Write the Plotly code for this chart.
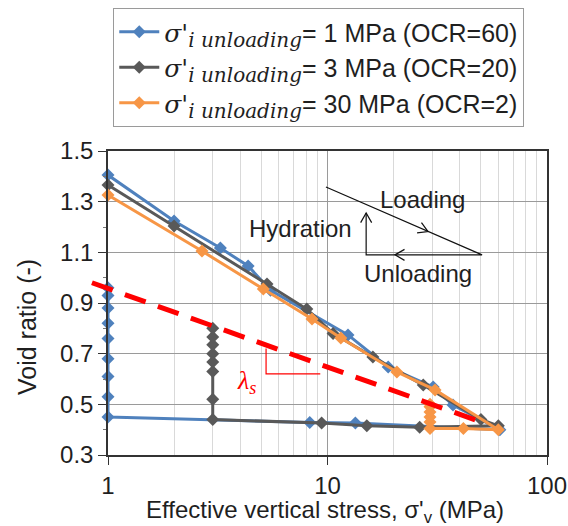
import numpy as np
import plotly.graph_objects as go

# ---------------- data ----------------
blue_x = [1, 2, 3.25, 4.35, 5.5, 12.4, 18.9, 30.3, 37.3, 61, 13.4, 8.3, 1, 1, 1, 1, 1, 1, 1, 1, 1]
blue_e = [1.405, 1.224, 1.117, 1.046, 0.95, 0.774, 0.647, 0.568, 0.497, 0.40, 0.426, 0.428, 0.45,
          0.53, 0.61, 0.68, 0.76, 0.82, 0.88, 0.93, 0.96]

gray_x = [1, 2, 5.3, 8.05, 10.6, 16.1, 27.3, 50, 60, 26.3, 15.1, 9.4, 3, 3, 3, 3, 3, 3, 3, 3]
gray_e = [1.366, 1.204, 0.975, 0.876, 0.78, 0.687, 0.576, 0.44, 0.415, 0.41, 0.415, 0.426, 0.44,
          0.52, 0.63, 0.667, 0.70, 0.735, 0.766, 0.80]

orange_x = [1, 2.68, 5.1, 8.5, 11.5, 20.7, 30.9, 60, 41.6, 29.3, 29.3, 29.3, 29.3, 29.3, 29.3]
orange_e = [1.326, 1.105, 0.955, 0.837, 0.762, 0.628, 0.557, 0.40, 0.405, 0.405, 0.43, 0.45, 0.47,
            0.49, 0.50]

series_names = [
    "= 1 MPa (OCR=60)",
    "= 3 MPa (OCR=20)",
    "= 30 MPa (OCR=2)",
]
series_colors = ["#4F81BD", "#595959", "#F79646"]

# red dashed swelling line and slope triangle
red_x = [0.845, 53.3]
red_e = [0.98, 0.422]
tri_x = [5.25, 5.25, 9.27]
tri_e = [0.72, 0.62, 0.62]

# schematic (loading / unloading / hydration)
sch_x = [9.84, 50.6, 15.0, 15.0]
sch_e = [1.358, 1.09, 1.09, 1.255]
# arrowhead tips (x, e, direction angle on screen in degrees, 0 = right, 90 = up)
arrow_x = [28.7, 20.3, 15.0]
arrow_e = [1.182, 1.09, 1.255]
arrow_dir = [-23.6, 180, 90]

x_range_log = [0, 2]
y_range = [0.3, 1.5]

W, H = 568, 526
ML, MR, MT, MB = 108, 21, 151, 71
PW, PH = W - ML - MR, H - MT - MB

FONT = "Arial, 'Liberation Sans', sans-serif"
TXT = "#1f1f1f"

fig = go.Figure()

sigma_lbl = ("<span style=\"font-family:DejaVu Serif\"><i>σ'</i><sub>"
             "<span style=\"font-size:20px\"><i>i unloading</i></span></sub></span>")

for xs, es, nm, col in zip([blue_x, gray_x, orange_x], [blue_e, gray_e, orange_e], series_names, series_colors):
    fig.add_trace(go.Scatter(
        x=xs, y=es, mode="lines+markers", name=sigma_lbl + nm,
        line=dict(color=col, width=3),
        marker=dict(symbol="diamond", size=10, color=col),
        cliponaxis=False,
    ))

# slope triangle
fig.add_trace(go.Scatter(x=tri_x, y=tri_e, mode="lines", line=dict(color="#FF0000", width=1.2),
                         showlegend=False, hoverinfo="skip"))
# schematic
fig.add_trace(go.Scatter(x=sch_x, y=sch_e, mode="lines", line=dict(color="#111111", width=1.2),
                         showlegend=False, hoverinfo="skip"))


def px(v):
    return (np.log10(v) - x_range_log[0]) / (x_range_log[1] - x_range_log[0])


def py(v):
    return (v - y_range[0]) / (y_range[1] - y_range[0])


shapes = [dict(type="line", xref="paper", yref="paper",
               x0=px(red_x[0]), y0=py(red_e[0]), x1=px(red_x[1]), y1=py(red_e[1]),
               line=dict(color="#FF0000", width=5, dash="22px,13px"), layer="above")]

# chevron arrowheads
L = 11
for xv, ev, ang in zip(arrow_x, arrow_e, arrow_dir):
    tx, ty = px(xv), py(ev)
    pts = []
    for da in (150, -150):
        a = np.radians(ang + da)
        pts.append((tx + L * np.cos(a) / PW, ty + L * np.sin(a) / PH))
    path = "M %f,%f L %f,%f L %f,%f" % (pts[0][0], pts[0][1], tx, ty, pts[1][0], pts[1][1])
    shapes.append(dict(type="path", xref="paper", yref="paper", path=path,
                       line=dict(color="#111111", width=1.2)))

txt_font = dict(family=FONT, size=24, color=TXT)
title_font = dict(family=FONT, size=25, color=TXT)
annotations = [
    dict(x=np.log10(27.0), y=1.307, xref="x", yref="y", text="Loading", showarrow=False, font=txt_font),
    dict(x=np.log10(7.5), y=1.196, xref="x", yref="y", text="Hydration", showarrow=False, font=txt_font),
    dict(x=np.log10(25.9), y=1.015, xref="x", yref="y", text="Unloading", showarrow=False, font=txt_font),
    dict(x=np.log10(4.29), y=0.588, xref="x", yref="y",
         text="<span style=\"font-family:Liberation Serif\"><i>λ</i><sub><i>s</i></sub></span>",
         showarrow=False, font=dict(family="'Liberation Serif', serif", size=26, color="#FF0000")),
    dict(x=0.495, y=-0.186, xref="paper", yref="paper", text="Effective vertical stress, σ'<sub>v</sub> (MPa)",
         showarrow=False, font=dict(family=FONT, size=24, color=TXT), xanchor="center", yanchor="middle"),
    dict(x=-0.1845, y=0.421, xref="paper", yref="paper", text="Void ratio (-)", textangle=-90,
         showarrow=False, font=title_font, xanchor="center", yanchor="middle"),
]

fig.update_layout(
    width=W, height=H,
    margin=dict(l=ML, r=MR, t=MT, b=MB, autoexpand=False),
    paper_bgcolor="white", plot_bgcolor="white",
    font=dict(family=FONT, size=24, color=TXT),
    shapes=shapes, annotations=annotations,
    showlegend=True,
    legend=dict(x=0.012, y=1.47, xanchor="left", yanchor="top", bgcolor="white",
                bordercolor="#9a9a9a", borderwidth=1, font=dict(family=FONT, size=25, color=TXT),
                tracegroupgap=0, itemwidth=40),
)

fig.update_xaxes(type="log", range=x_range_log, dtick=1, showgrid=True, gridcolor="#9a9a9a", gridwidth=1,
                 showline=True, linecolor="#333333", linewidth=1.5, mirror=True,
                 ticks="outside", ticklen=8, tickcolor="#333333", automargin=False,
                 minor=dict(dtick="D1", showgrid=True, gridcolor="#d9d9d9", ticks=""),
                 tickfont=dict(family=FONT, size=24, color=TXT), zeroline=False)
fig.update_yaxes(range=y_range, tick0=0.3, dtick=0.2, tickformat=".1f", showgrid=True, gridcolor="#9a9a9a",
                 showline=True, linecolor="#333333", linewidth=1.5, mirror=True,
                 ticks="outside", ticklen=8, tickcolor="#333333", automargin=False,
                 minor=dict(dtick=0.1, tick0=0.3, ticks="outside", ticklen=3, tickcolor="#777777", showgrid=False),
                 tickfont=dict(family=FONT, size=24, color=TXT), zeroline=False)

fig.write_html("out.html")
